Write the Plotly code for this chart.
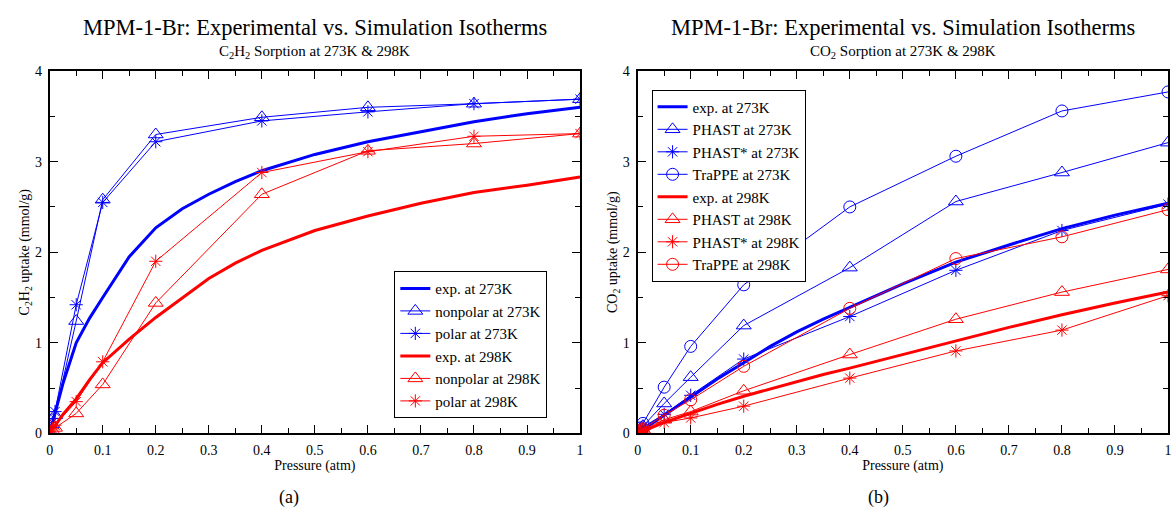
import plotly.graph_objects as go

# ---------------- data ----------------
# simulation pressures (atm)
p_sim = [0, 0.005, 0.01, 0.05, 0.1, 0.2, 0.4, 0.6, 0.8, 1.0]
# experimental pressures (atm)
p_exp = [0, 0.01, 0.025, 0.05, 0.075, 0.1, 0.15, 0.2, 0.25, 0.3, 0.35, 0.4, 0.5, 0.6, 0.7, 0.8, 0.9, 1.0]

# (a) C2H2
c2h2_exp_273 = [0, 0.22, 0.55, 1.0, 1.27, 1.5, 1.95, 2.27, 2.48, 2.64, 2.78, 2.90, 3.08, 3.22, 3.33, 3.44, 3.53, 3.60]
c2h2_exp_298 = [0, 0.09, 0.21, 0.38, 0.59, 0.78, 1.04, 1.28, 1.50, 1.71, 1.88, 2.02, 2.24, 2.40, 2.54, 2.66, 2.74, 2.83]
c2h2_nonpolar_273 = [0, 0.10, 0.20, 1.24, 2.58, 3.30, 3.49, 3.60, 3.64, 3.69]
c2h2_polar_273 = [0, 0.12, 0.24, 1.42, 2.55, 3.22, 3.45, 3.55, 3.64, 3.69]
c2h2_nonpolar_298 = [0, 0.03, 0.06, 0.22, 0.54, 1.44, 2.64, 3.12, 3.20, 3.31]
c2h2_polar_298 = [0, 0.05, 0.09, 0.35, 0.79, 1.90, 2.88, 3.11, 3.28, 3.31]

# (b) CO2
co2_exp_273 = [0, 0.04, 0.10, 0.20, 0.30, 0.40, 0.60, 0.78, 0.96, 1.12, 1.26, 1.39, 1.65, 1.89, 2.08, 2.26, 2.41, 2.54]
co2_exp_298 = [0, 0.02, 0.06, 0.12, 0.17, 0.22, 0.32, 0.41, 0.49, 0.57, 0.65, 0.72, 0.87, 1.02, 1.17, 1.31, 1.44, 1.56]
co2_phast_273 = [0, 0.05, 0.08, 0.33, 0.62, 1.19, 1.83, 2.56, 2.88, 3.21]
co2_phaststar_273 = [0, 0.04, 0.07, 0.21, 0.42, 0.82, 1.29, 1.80, 2.24, 2.53]
co2_trappe_273 = [0, 0.06, 0.11, 0.51, 0.96, 1.64, 2.50, 3.06, 3.56, 3.77]
co2_phast_298 = [0, 0.02, 0.04, 0.15, 0.24, 0.47, 0.87, 1.26, 1.56, 1.81]
co2_phaststar_298 = [0, 0.02, 0.03, 0.12, 0.17, 0.30, 0.61, 0.91, 1.14, 1.52]
co2_trappe_298 = [0, 0.03, 0.05, 0.20, 0.37, 0.74, 1.38, 1.93, 2.17, 2.47]

x_ticks = [0, 0.1, 0.2, 0.3, 0.4, 0.5, 0.6, 0.7, 0.8, 0.9, 1]
x_tick_labels = ["0", "0.1", "0.2", "0.3", "0.4", "0.5", "0.6", "0.7", "0.8", "0.9", "1"]
y_ticks = [0, 1, 2, 3, 4]
y_tick_labels = ["0", "1", "2", "3", "4"]

BLUE = "#0000ff"
RED = "#ff0000"
FONT = "Liberation Serif"

fig = go.Figure()


def exp_trace(x, y, color, name, xa, ya, legend):
    return go.Scatter(x=x, y=y, mode="lines", name=name, line=dict(color=color, width=3),
                      xaxis=xa, yaxis=ya, legend=legend)


def sim_trace(x, y, color, symbol, name, xa, ya, legend, size=11):
    return go.Scatter(x=x, y=y, mode="lines+markers", name=name,
                      line=dict(color=color, width=1),
                      marker=dict(symbol=symbol, size=size, color=color,
                                  line=dict(color=color, width=1)),
                      xaxis=xa, yaxis=ya, legend=legend)


# panel (a)
fig.add_trace(exp_trace(p_exp, c2h2_exp_273, BLUE, "exp. at 273K", "x", "y", "legend"))
fig.add_trace(sim_trace(p_sim, c2h2_nonpolar_273, BLUE, "triangle-up-open", "nonpolar at 273K", "x", "y", "legend", 13))
fig.add_trace(sim_trace(p_sim, c2h2_polar_273, BLUE, "asterisk-open", "polar at 273K", "x", "y", "legend", 11))
fig.add_trace(exp_trace(p_exp, c2h2_exp_298, RED, "exp. at 298K", "x", "y", "legend"))
fig.add_trace(sim_trace(p_sim, c2h2_nonpolar_298, RED, "triangle-up-open", "nonpolar at 298K", "x", "y", "legend", 13))
fig.add_trace(sim_trace(p_sim, c2h2_polar_298, RED, "asterisk-open", "polar at 298K", "x", "y", "legend", 11))

# panel (b)
fig.add_trace(exp_trace(p_exp, co2_exp_273, BLUE, "exp. at 273K", "x2", "y2", "legend2"))
fig.add_trace(sim_trace(p_sim, co2_phast_273, BLUE, "triangle-up-open", "PHAST at 273K", "x2", "y2", "legend2", 13))
fig.add_trace(sim_trace(p_sim, co2_phaststar_273, BLUE, "asterisk-open", "PHAST* at 273K", "x2", "y2", "legend2", 11))
fig.add_trace(sim_trace(p_sim, co2_trappe_273, BLUE, "circle-open", "TraPPE at 273K", "x2", "y2", "legend2", 12))
fig.add_trace(exp_trace(p_exp, co2_exp_298, RED, "exp. at 298K", "x2", "y2", "legend2"))
fig.add_trace(sim_trace(p_sim, co2_phast_298, RED, "triangle-up-open", "PHAST at 298K", "x2", "y2", "legend2", 13))
fig.add_trace(sim_trace(p_sim, co2_phaststar_298, RED, "asterisk-open", "PHAST* at 298K", "x2", "y2", "legend2", 11))
fig.add_trace(sim_trace(p_sim, co2_trappe_298, RED, "circle-open", "TraPPE at 298K", "x2", "y2", "legend2", 12))

W, H = 1176, 520
ydom = [(H - 439) / H, (H - 66) / H]

axis_common = dict(
    showline=True, linecolor="black", linewidth=2, mirror="ticks",
    ticks="inside", ticklen=8, tickwidth=1, tickcolor="black",
    showgrid=False, zeroline=False, ticklabelstandoff=3,
    tickfont=dict(family=FONT, size=14, color="black"),
)
xax = dict(axis_common, range=[0, 1], tickvals=x_ticks, ticktext=x_tick_labels,
           minor=dict(ticks="inside", ticklen=5, dtick=0.05, tickcolor="black", showgrid=False),
           title=dict(text="Pressure (atm)", font=dict(family=FONT, size=14, color="black"), standoff=1))
yax = dict(axis_common, range=[0, 4], tickvals=y_ticks, ticktext=y_tick_labels, domain=ydom,
           minor=dict(ticks="inside", ticklen=5, dtick=0.5, tickcolor="black", showgrid=False))

fig.update_layout(
    width=W, height=H,
    margin=dict(l=0, r=0, t=0, b=0),
    paper_bgcolor="white", plot_bgcolor="white",
    font=dict(family=FONT, color="black"),
    xaxis=dict(xax, domain=[46 / W, 580 / W], anchor="y"),
    yaxis=dict(yax, anchor="x", title=dict(text="C<sub>2</sub>H<sub>2</sub> uptake (mmol/g)",
                                            font=dict(family=FONT, size=14, color="black"), standoff=2)),
    xaxis2=dict(xax, domain=[638 / W, 1172 / W], anchor="y2"),
    yaxis2=dict(yax, anchor="x2", title=dict(text="CO<sub>2</sub> uptake (mmol/g)",
                                             font=dict(family=FONT, size=14, color="black"), standoff=2)),
    legend=dict(x=393 / W, y=1 - 272 / H, xanchor="left", yanchor="top",
                bordercolor="black", borderwidth=1, bgcolor="white",
                font=dict(family=FONT, size=15, color="black"), tracegroupgap=0),
    legend2=dict(x=652 / W, y=1 - 85 / H, xanchor="left", yanchor="top",
                 bordercolor="black", borderwidth=1, bgcolor="white",
                 font=dict(family=FONT, size=15, color="black"), tracegroupgap=0),
    showlegend=True,
)

ann = []
for cx, sub, lab, lx in [(313, "C<sub>2</sub>H<sub>2</sub> Sorption at 273K &amp; 298K", "(a)", 287),
                         (905, "CO<sub>2</sub> Sorption at 273K &amp; 298K", "(b)", 880)]:
    ann.append(dict(x=cx / W, y=1 - 21 / H, xref="paper", yref="paper", showarrow=False,
                    text="MPM-1-Br: Experimental vs. Simulation Isotherms",
                    font=dict(family=FONT, size=22.5, color="black"), xanchor="center", yanchor="middle"))
    ann.append(dict(x=cx / W, y=1 - 46 / H, xref="paper", yref="paper", showarrow=False,
                    text=sub, font=dict(family=FONT, size=15, color="black"),
                    xanchor="center", yanchor="middle"))
    ann.append(dict(x=lx / W, y=1 - 505 / H, xref="paper", yref="paper", showarrow=False,
                    text=lab, font=dict(family=FONT, size=18, color="black"),
                    xanchor="center", yanchor="middle"))
fig.update_layout(annotations=ann)

fig.write_html("out.html")
